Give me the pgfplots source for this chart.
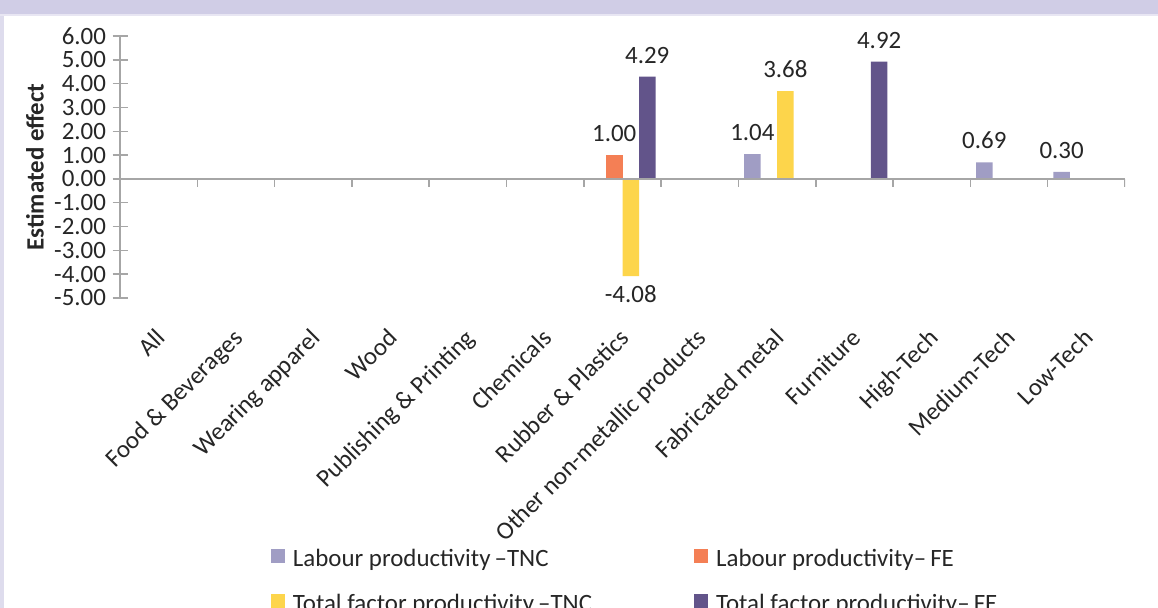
\documentclass[border=0pt]{standalone}
\usepackage{pgfplots}
\pgfplotsset{compat=1.18}
\usepackage{fontspec}
\setmainfont{Carlito}
\definecolor{lptnc}{HTML}{A09DC4}
\definecolor{lpfe}{HTML}{F47F55}
\definecolor{tfptnc}{HTML}{FDD54B}
\definecolor{tfpfe}{HTML}{62548A}
\definecolor{axgray}{HTML}{A6A6A6}
\definecolor{framec}{HTML}{D0CDE6}
\definecolor{txt}{HTML}{262626}
\newcommand{\cf}{\fontsize{25}{30}\selectfont}
\begin{document}
\begin{tikzpicture}[x=1bp,y=1bp]
\path[use as bounding box] (0,0) rectangle (1158,608);
\clip (0,0) rectangle (1158,608);
\fill[white] (0,0) rectangle (1158,608);
\fill[framec] (0,594) rectangle (1158,608);
\fill[framec!70] (0,0) rectangle (4,594);
\fill[framec!50] (0,592) rectangle (1158,594);
\begin{axis}[
  at={(120bp,310bp)}, anchor=south west,
  scale only axis, width=1005bp, height=262bp,
  xmin=-0.5, xmax=12.5, ymin=-5, ymax=6,
  ybar=0pt, bar width=16.5bp,
  axis y line*=left, axis x line*=bottom,
  x axis line style={draw=none},
  y axis line style={axgray, line width=1.5bp},
  x tick style={draw=none},
  y tick style={axgray, line width=1.5bp},
  tick align=center, major tick length=15bp,
  xtick={0,...,12},
  xticklabels={All, Food \& Beverages, Wearing apparel, Wood, Publishing \& Printing, Chemicals, Rubber \& Plastics, Other non-metallic products, Fabricated metal, Furniture, High-Tech, Medium-Tech, Low-Tech},
  xticklabel style={rotate=45, anchor=north east, font=\cf, text=txt, xshift=-15bp, yshift=-9bp},
  ytick={-5,...,6},
  yticklabel style={font=\cf, text=txt, xshift=-3bp},
  /pgf/number format/.cd, fixed, zerofill, precision=2, assume math mode=true,
  /pgfplots/.cd,
  ylabel={\textbf{Estimated effect}},
  every axis y label/.style={at={(axis description cs:-0.0846,0.5)}, rotate=90, anchor=center, font=\cf, text=txt},
  nodes near coords,
  visualization depends on={rawy \as \rawy},
  every node near coord/.append style={font=\cf, text=txt, yshift={(\rawy>0)*10-(\rawy<0)*6}},
  legend columns=2,
  legend cell align=left,
  legend image code/.code={\fill[#1] (0bp,-5bp) rectangle (14bp,9bp);},
  legend style={draw=none, fill=none, font=\cf, text=txt, anchor=north west,
    at={(axis description cs:0.150,-0.95)}, inner sep=0pt,
    /tikz/every odd column/.append style={column sep=6bp},
    /tikz/every even column/.append style={column sep=100bp}, row sep=22bp},
]
\addplot[fill=lptnc, draw=none] coordinates {(8,1.04) (11,0.69) (12,0.30)};
\addplot[fill=lpfe, draw=none] coordinates {(6,1.00)};
\addplot[fill=tfptnc, draw=none] coordinates {(6,-4.08) (8,3.68)};
\addplot[fill=tfpfe, draw=none] coordinates {(6,4.29) (9,4.92)};
\legend{Labour productivity\,--TNC, Labour productivity--\,FE, Total factor productivity\,--TNC, Total factor productivity--\,FE}
\draw[axgray, line width=1.5bp] (axis cs:-0.5,0) -- (axis cs:12.5,0);
\pgfplotsinvokeforeach{-0.5,0.5,1.5,2.5,3.5,4.5,5.5,6.5,7.5,8.5,9.5,10.5,11.5,12.5}{
  \draw[axgray, line width=1.5bp] (axis cs:#1,0) -- ++(0bp,-8bp);
}
\end{axis}
\end{tikzpicture}
\end{document}
